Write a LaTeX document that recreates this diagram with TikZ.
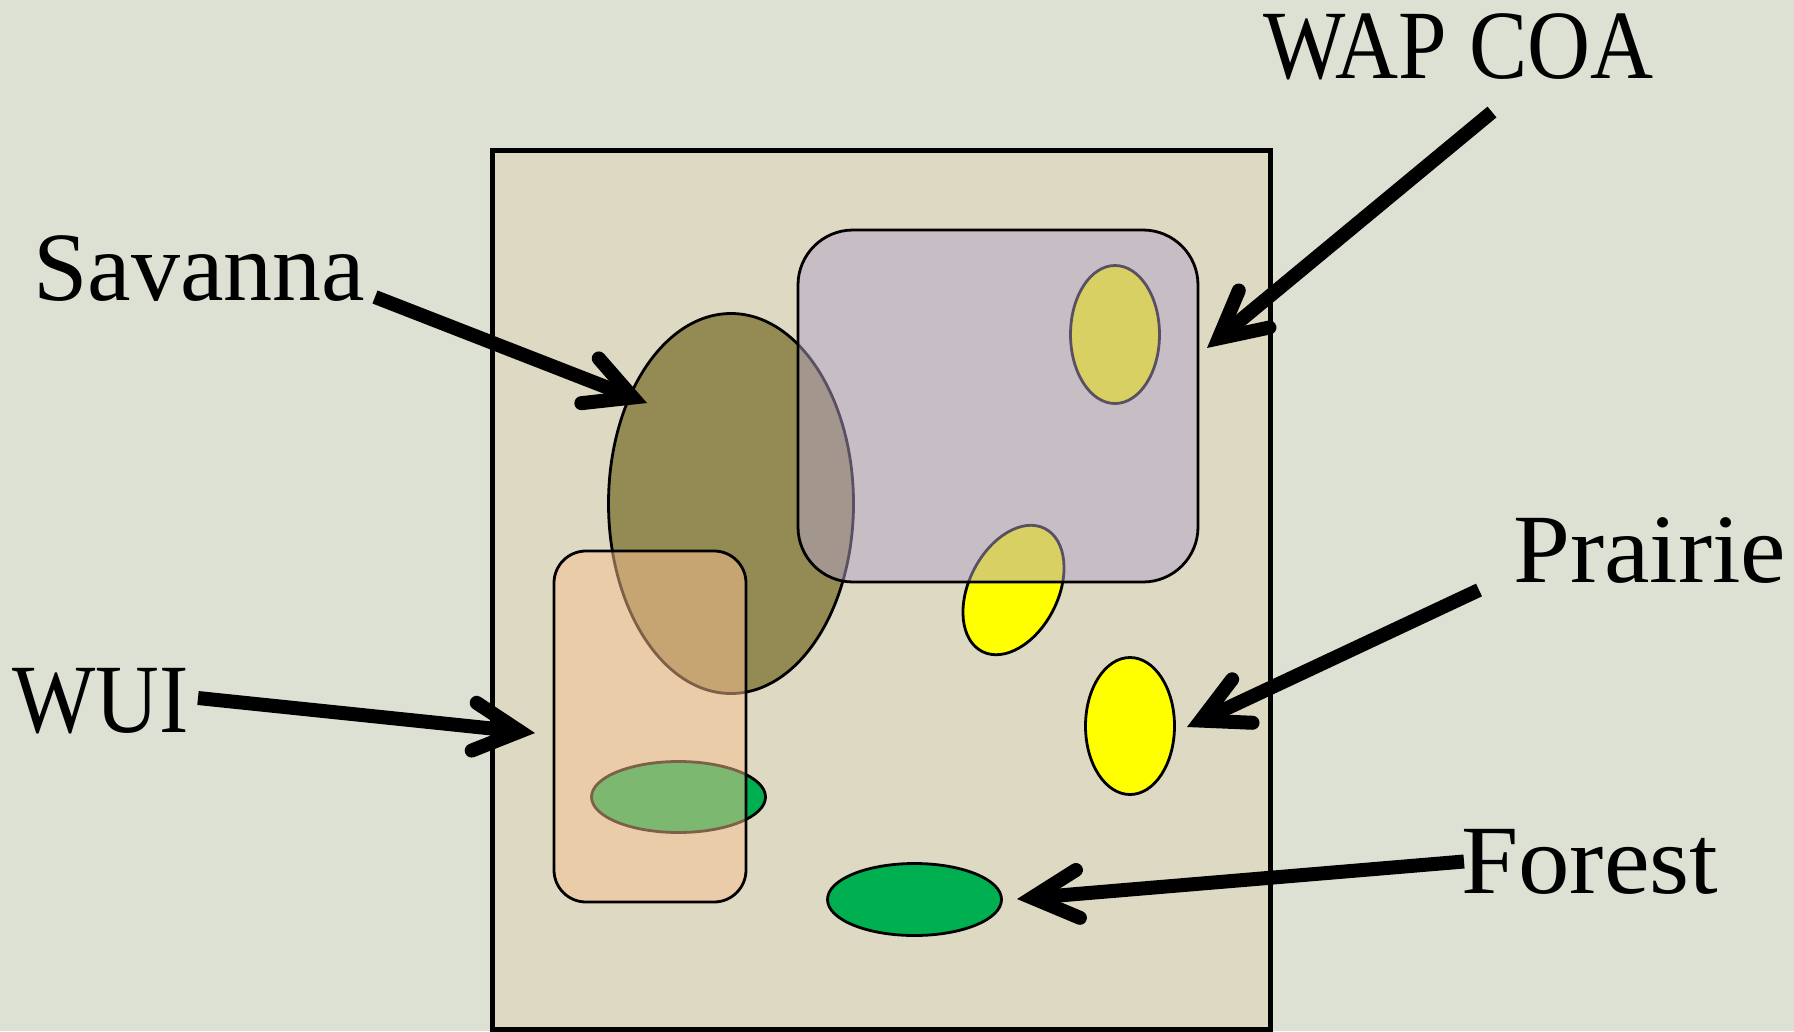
\documentclass[tikz,border=0pt]{standalone}
\usepackage{fontspec}
\setmainfont{Liberation Serif}
\usetikzlibrary{arrows.meta,shapes.geometric}
\definecolor{pagebg}{HTML}{DCE1D4}
\definecolor{areabg}{HTML}{DDD9C3}
\definecolor{savc}{HTML}{948A54}
\definecolor{wapc}{HTML}{B3A2C7}
\definecolor{wuic}{HTML}{FAC090}
\definecolor{prc}{HTML}{FFFF00}
\definecolor{forc}{HTML}{00B050}
\tikzset{
  patch/.style={ellipse, draw=black, line width=2.8pt, inner sep=0pt},
  zone/.style={draw=black, line width=2.8pt, fill opacity=0.5},
  lbl/.style={inner sep=0pt, anchor=base west, font=\fontsize{98}{98}\selectfont},
  pointer/.style={line width=14pt, -{Straight Barb[length=46pt, width=48pt, line cap=round, line join=miter]}}
}
\begin{document}
\begin{tikzpicture}[x=1pt,y=-1pt]
\fill[pagebg] (0,0) rectangle (1794,1031);
\useasboundingbox (0,0) rectangle (1794,1031);
% study area
\draw[fill=areabg, line width=5pt] (492,150) rectangle (1270,1029);
% habitat patches
\node[patch, fill=savc, minimum width=245pt, minimum height=380pt] (sav) at (731,503.5) {};
\node[patch, fill=forc, minimum width=174pt, minimum height=71pt] (gw) at (678.5,797) {};
\node[patch, fill=forc, minimum width=174pt, minimum height=72pt] (forest) at (914.5,899.5) {};
\node[patch, fill=prc, minimum width=89pt, minimum height=138pt] (y1) at (1115,334.5) {};
\node[patch, fill=prc, minimum width=89pt, minimum height=138pt, rotate=-27] (y2) at (1013.5,590) {};
\node[patch, fill=prc, minimum width=89pt, minimum height=137pt] (prairie) at (1130,726) {};
% overlay zones
\draw[zone, fill=wapc, rounded corners=55pt] (798,230) rectangle (1198,582);
\draw[zone, fill=wuic, rounded corners=32pt] (554,551) rectangle (746,902);
\coordinate (wapzone) at (1207,348);
\coordinate (wuizone) at (535,733);
% labels
\node[lbl] (lwap) at (1263,78) {\scalebox{0.89}[1]{WAP COA}};
\node[lbl] (lsav) at (33,300) {Savanna};
\node[lbl] (lwui) at (12,732) {\scalebox{0.9}[1]{WUI}};
\node[lbl] (lpr) at (1513,582) {\scalebox{1.045}[1]{Prairie}};
\node[lbl] (lfor) at (1461,893) {\scalebox{1.05}[1]{Forest}};
% arrow tails
\coordinate (twap) at (1492,112);
\coordinate (tsav) at (375,297);
\coordinate (twui) at (198,698);
\coordinate (tpr) at (1479,590);
\coordinate (tfor) at (1464,861.5);
% arrow tips
\coordinate (hsav) at (647,403);
\coordinate (hpr) at (1187,727);
\coordinate (hfor) at (1017,899);
\draw[pointer] (twap) -- (wapzone);
\draw[pointer] (tsav) -- (hsav);
\draw[pointer] (twui) -- (wuizone);
\draw[pointer] (tpr) -- (hpr);
\draw[pointer] (tfor) -- (hfor);
\end{tikzpicture}
\end{document}
